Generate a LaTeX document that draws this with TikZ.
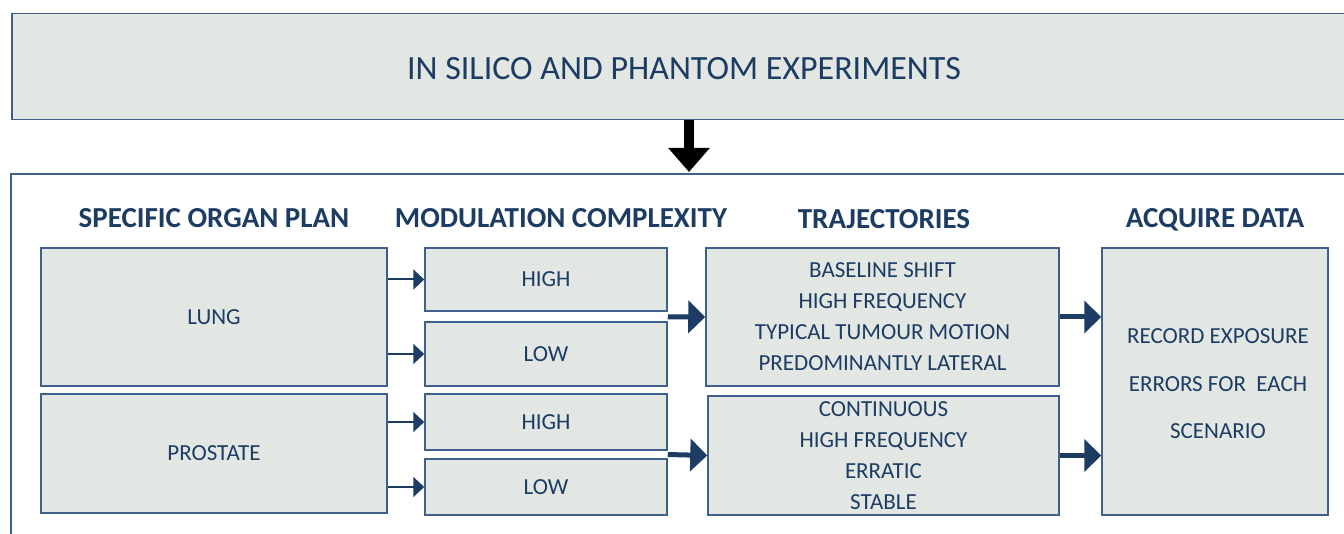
\documentclass[tikz,border=0pt]{standalone}
\usepackage{fontspec}
\setmainfont{Carlito}
\usetikzlibrary{arrows.meta,calc}

\definecolor{boxfill}{RGB}{227,231,228}
\definecolor{boxline}{RGB}{62,96,138}
\definecolor{navy}{RGB}{28,60,100}

\tikzset{
  box/.style={draw=boxline, line width=1.5pt, fill=boxfill, text=navy,
    align=center, inner sep=0pt, font=\fontsize{23}{31}\selectfont},
  head/.style={text=navy, font=\fontsize{29}{34}\selectfont\bfseries},
  thinarrow/.style={draw=navy, line width=2pt, -{Triangle[length=11pt,width=20pt]}},
  fatarrow/.style={draw=navy, line width=5pt, -{Triangle[length=17pt,width=32pt]}},
}

\begin{document}
\begin{tikzpicture}[x=1pt,y=-1pt]
  \useasboundingbox (0,0) rectangle (1344,534);

  % top banner and the panel below it
  \node[box, minimum width=1360pt, minimum height=106pt, anchor=north west] (top) at (11,13) {};
  \node[text=navy, font=\fontsize{34}{40}\selectfont] (title) at (684,69) {IN SILICO AND PHANTOM EXPERIMENTS};
  \draw[boxline, line width=2.5pt] (1360,174) -- (11,174) -- (11,560);
  \coordinate (drop) at (689,172);
  \draw[line width=10pt, -{Triangle[length=24pt,width=40pt]}] (top.south -| drop) -- (drop);

  % column headings
  \node[head] (h1) at (214,218) {SPECIFIC ORGAN PLAN};
  \node[head] (h2) at (561,218) {MODULATION COMPLEXITY};
  \node[head] (h3) at (884,219) {TRAJECTORIES};
  \node[head] (h4) at (1215,220) {ACQUIRE DATA};

  % organ plans
  \node[box, minimum width=346pt, minimum height=138pt] (lung) at (214,317) {LUNG};
  \node[box, minimum width=346pt, minimum height=119pt] (prostate) at (214,453.5) {PROSTATE};

  % modulation
  \node[box, minimum width=242pt, minimum height=63pt] (high1) at (546,279.5) {HIGH};
  \node[box, minimum width=242pt, minimum height=64pt] (low1) at (546,354) {LOW};
  \node[box, minimum width=242pt, minimum height=56pt] (high2) at (546,422) {HIGH};
  \node[box, minimum width=242pt, minimum height=56pt] (low2) at (546,487) {LOW};

  % trajectories
  \node[box, minimum width=353pt, minimum height=138pt] (traj1) at (882.5,317)
    {BASELINE SHIFT\\HIGH FREQUENCY\\TYPICAL TUMOUR MOTION\\PREDOMINANTLY LATERAL};
  \node[box, minimum width=351pt, minimum height=119pt] (traj2) at (883.5,455.5)
    {CONTINUOUS\\HIGH FREQUENCY\\ERRATIC\\STABLE};

  % data
  \node[box, minimum width=226pt, minimum height=267pt] (acq) at (1215,381.5) {};
  \node[text=navy, align=center, font=\fontsize{23}{47.5}\selectfont] (acqtext) at (1218,384)
    {RECORD EXPOSURE\\ERRORS FOR~ EACH\\SCENARIO};

  % arrows
  \draw[thinarrow] (lung.east |- high1) -- (high1.west);
  \draw[thinarrow] (lung.east |- low1) -- (low1.west);
  \draw[thinarrow] (prostate.east |- high2) -- (high2.west);
  \draw[thinarrow] (prostate.east |- low2) -- (low2.west);
  \draw[fatarrow] ($(high1.east)!0.5!(low1.east)$) -- (traj1.west);
  \draw[fatarrow] ($(high2.east)!0.5!(low2.east)$) -- (traj2.west);
  \draw[fatarrow] (traj1.east) -- (acq.west |- traj1);
  \draw[fatarrow] (traj2.east) -- (acq.west |- traj2);
\end{tikzpicture}
\end{document}
